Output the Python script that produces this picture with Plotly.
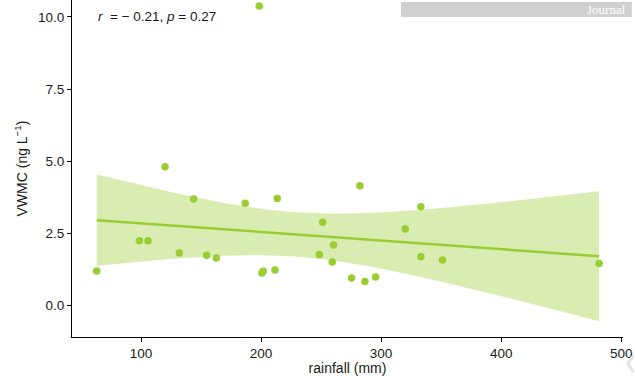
import numpy as np
import plotly.graph_objects as go

rainfall = [63.1, 98.6, 105.8, 120.0, 131.9, 143.9, 154.7, 162.7, 186.8, 198.5,
            200.7, 201.8, 211.6, 213.5, 248.5, 251.3, 259.3, 260.3, 275.4, 286.5,
            295.4, 282.3, 320.1, 333.1, 333.1, 351.2, 481.6]
vwmc = [1.18, 2.23, 2.23, 4.80, 1.81, 3.68, 1.73, 1.63, 3.53, 10.38,
        1.11, 1.17, 1.22, 3.70, 1.75, 2.87, 1.49, 2.08, 0.94, 0.82,
        0.97, 4.14, 2.64, 3.41, 1.68, 1.56, 1.44]
x_ticks = [100, 200, 300, 400, 500]
y_ticks = [0.0, 2.5, 5.0, 7.5, 10.0]
y_tick_labels = ["0.0", "2.5", "5.0", "7.5", "10.0"]
stat_label = "<i>r</i>  = \u2212 0.21, <i>p</i> = 0.27"
t_crit = 2.0595  # t(0.975, df=25)

x = np.array(rainfall)
y = np.array(vwmc)
n = len(x)
b1, b0 = np.polyfit(x, y, 1)
resid = y - (b0 + b1 * x)
s = np.sqrt(np.sum(resid ** 2) / (n - 2))
xg = np.linspace(x.min(), x.max(), 80)
yg = b0 + b1 * xg
se = s * np.sqrt(1 / n + (xg - x.mean()) ** 2 / np.sum((x - x.mean()) ** 2))
upper = yg + t_crit * se
lower = yg - t_crit * se

GREEN = "#9ACD32"
fig = go.Figure()
fig.add_trace(go.Scatter(x=xg, y=upper, mode="lines", line=dict(width=0),
                         hoverinfo="skip", showlegend=False))
fig.add_trace(go.Scatter(x=xg, y=lower, mode="lines", line=dict(width=0),
                         fill="tonexty", fillcolor="rgba(154,205,50,0.38)",
                         hoverinfo="skip", showlegend=False))
fig.add_trace(go.Scatter(x=xg, y=yg, mode="lines", line=dict(color=GREEN, width=2.5),
                         showlegend=False))
fig.add_trace(go.Scatter(x=rainfall, y=vwmc, mode="markers",
                         marker=dict(color=GREEN, size=7.5), showlegend=False))

tick_font = dict(family="Liberation Sans, Arial, sans-serif", size=13.5, color="#1a1a1a")
title_font = dict(family="Liberation Sans, Arial, sans-serif", size=14, color="#1a1a1a")
fig.update_layout(
    width=635, height=376,
    margin=dict(l=72, r=12, t=0, b=39),
    paper_bgcolor="white", plot_bgcolor="white",
    font=tick_font,
    xaxis=dict(range=[42.5, 501.5], tickvals=x_ticks, ticks="outside", ticklen=4,
               tickcolor="black", showline=True, linecolor="black", linewidth=1.2,
               showgrid=False, zeroline=False, tickfont=tick_font,
               title=dict(text="rainfall (mm)", font=title_font, standoff=2)),
    yaxis=dict(range=[-1.11, 10.59], tickvals=y_ticks, ticktext=y_tick_labels,
               ticks="outside", ticklen=4, tickcolor="black", showline=True,
               linecolor="black", linewidth=1.2, showgrid=False, zeroline=False,
               tickfont=tick_font,
               title=dict(text="VWMC (ng L<sup>\u22121</sup>)", font=title_font, standoff=7)),
)

fig.add_annotation(x=0.043, y=10.0, xref="paper", yref="y", text=stat_label,
                   showarrow=False, xanchor="left", yanchor="middle",
                   font=dict(family="Liberation Sans, Arial, sans-serif", size=13.5, color="#1a1a1a"))

# grey banner at top right
fig.add_shape(type="rect", xref="paper", yref="paper", x0=0.597, x1=1.016,
              y0=0.9496, y1=0.994, fillcolor="#D0D0D0", line=dict(width=0), layer="above")
fig.add_annotation(x=1.009, y=0.972, xref="paper", yref="paper", text="Journal",
                   showarrow=False, xanchor="right", yanchor="middle",
                   font=dict(family="Liberation Serif, serif", size=13, color="white"))

# faint watermark chevron at bottom-right corner
fig.add_shape(type="line", xref="paper", yref="paper", x0=1.0195, y0=-0.055,
              x1=1.0085, y1=-0.078, line=dict(color="#E6E6E6", width=3))
fig.add_shape(type="line", xref="paper", yref="paper", x0=1.0085, y0=-0.078,
              x1=1.0195, y1=-0.105, line=dict(color="#E6E6E6", width=3))

fig.write_html("out.html")
